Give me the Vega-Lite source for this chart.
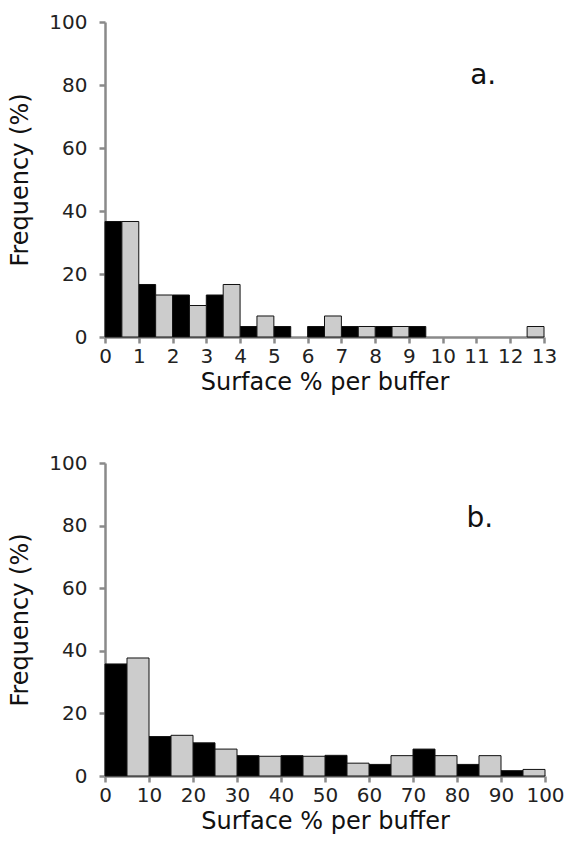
{
  "$schema": "https://vega.github.io/schema/vega-lite/v6.json",
  "background": "white",
  "padding": {"left": 8, "top": 12, "right": 5, "bottom": 5},
  "spacing": 59,
  "config": {
    "view": {"stroke": null},
    "axis": {
      "domainColor": "#8a8a8a", "domainWidth": 2.5, "tickColor": "#8a8a8a", "tickWidth": 2.5, "tickSize": 6,
      "labelFont": "DejaVu Sans", "labelFontSize": 20, "labelColor": "#222222",
      "titleFont": "DejaVu Sans", "titleFontSize": 24, "titleFontWeight": "normal", "titleColor": "#111111",
      "grid": false, "labelOverlap": false, "labelFlush": false
    },
    "axisX": {"labelPadding": 3, "titlePadding": 4},
    "axisY": {"labelPadding": 12, "titlePadding": 16}
  },
  "vconcat": [
    {
      "width": 439, "height": 315,
      "encoding": {
        "y": {"type": "quantitative", "scale": {"domain": [0, 100], "nice": false},
              "axis": {"values": [0,20,40,60,80,100], "title": "Frequency (%)"}}
      },
      "layer": [
        {
          "data": {"values": [
            {"lo": 0, "hi": 1, "group": "A", "value": 36.67},
            {"lo": 1, "hi": 2, "group": "A", "value": 16.67},
            {"lo": 2, "hi": 3, "group": "A", "value": 13.33},
            {"lo": 3, "hi": 4, "group": "A", "value": 13.33},
            {"lo": 4, "hi": 5, "group": "A", "value": 3.33},
            {"lo": 5, "hi": 6, "group": "A", "value": 3.33},
            {"lo": 6, "hi": 7, "group": "A", "value": 3.33},
            {"lo": 7, "hi": 8, "group": "A", "value": 3.33},
            {"lo": 8, "hi": 9, "group": "A", "value": 3.33},
            {"lo": 9, "hi": 10, "group": "A", "value": 3.33},
            {"lo": 0, "hi": 1, "group": "B", "value": 36.67},
            {"lo": 1, "hi": 2, "group": "B", "value": 13.33},
            {"lo": 2, "hi": 3, "group": "B", "value": 10.0},
            {"lo": 3, "hi": 4, "group": "B", "value": 16.67},
            {"lo": 4, "hi": 5, "group": "B", "value": 6.67},
            {"lo": 6, "hi": 7, "group": "B", "value": 6.67},
            {"lo": 7, "hi": 8, "group": "B", "value": 3.33},
            {"lo": 8, "hi": 9, "group": "B", "value": 3.33},
            {"lo": 12, "hi": 13, "group": "B", "value": 3.33}
          ]},
          "transform": [
            {"calculate": "datum.group === 'A' ? datum.lo : (datum.lo + datum.hi) / 2", "as": "x0"},
            {"calculate": "datum.group === 'A' ? (datum.lo + datum.hi) / 2 : datum.hi", "as": "x1"}
          ],
          "mark": {"type": "bar", "stroke": "#111111", "strokeWidth": 1},
          "encoding": {
            "x": {"field": "x0", "type": "quantitative", "scale": {"domain": [0, 13], "nice": false},
                  "axis": {"values": [0,1,2,3,4,5,6,7,8,9,10,11,12,13], "format": "d", "title": "Surface % per buffer"}},
            "x2": {"field": "x1"},
            "y": {"field": "value"},
            "y2": {"datum": 0},
            "color": {"field": "group", "type": "nominal", "scale": {"domain": ["A", "B"], "range": ["#000000", "#cccccc"]}, "legend": null}
          }
        },
        {
          "data": {"values": [{"x": 11.2, "y": 83, "label": "a."}]},
          "mark": {"type": "text", "font": "DejaVu Sans", "fontSize": 28, "color": "#111111"},
          "encoding": {
            "x": {"field": "x", "type": "quantitative",
                  "axis": {"values": [0,1,2,3,4,5,6,7,8,9,10,11,12,13], "format": "d", "title": "Surface % per buffer"}},
            "y": {"field": "y"},
            "text": {"field": "label"}
          }
        }
      ]
    },
    {
      "width": 440, "height": 313,
      "encoding": {
        "y": {"type": "quantitative", "scale": {"domain": [0, 100], "nice": false},
              "axis": {"values": [0,20,40,60,80,100], "title": "Frequency (%)"}}
      },
      "layer": [
        {
          "data": {"values": [
            {"lo": 0, "hi": 10, "group": "A", "value": 35.8},
            {"lo": 10, "hi": 20, "group": "A", "value": 12.6},
            {"lo": 20, "hi": 30, "group": "A", "value": 10.6},
            {"lo": 30, "hi": 40, "group": "A", "value": 6.5},
            {"lo": 40, "hi": 50, "group": "A", "value": 6.5},
            {"lo": 50, "hi": 60, "group": "A", "value": 6.6},
            {"lo": 60, "hi": 70, "group": "A", "value": 3.7},
            {"lo": 70, "hi": 80, "group": "A", "value": 8.6},
            {"lo": 80, "hi": 90, "group": "A", "value": 3.7},
            {"lo": 90, "hi": 100, "group": "A", "value": 1.7},
            {"lo": 0, "hi": 10, "group": "B", "value": 37.7},
            {"lo": 10, "hi": 20, "group": "B", "value": 13.0},
            {"lo": 20, "hi": 30, "group": "B", "value": 8.6},
            {"lo": 30, "hi": 40, "group": "B", "value": 6.3},
            {"lo": 40, "hi": 50, "group": "B", "value": 6.3},
            {"lo": 50, "hi": 60, "group": "B", "value": 4.1},
            {"lo": 60, "hi": 70, "group": "B", "value": 6.5},
            {"lo": 70, "hi": 80, "group": "B", "value": 6.5},
            {"lo": 80, "hi": 90, "group": "B", "value": 6.5},
            {"lo": 90, "hi": 100, "group": "B", "value": 2.1}
          ]},
          "transform": [
            {"calculate": "datum.group === 'A' ? datum.lo : (datum.lo + datum.hi) / 2", "as": "x0"},
            {"calculate": "datum.group === 'A' ? (datum.lo + datum.hi) / 2 : datum.hi", "as": "x1"}
          ],
          "mark": {"type": "bar", "stroke": "#111111", "strokeWidth": 1},
          "encoding": {
            "x": {"field": "x0", "type": "quantitative", "scale": {"domain": [0, 100], "nice": false},
                  "axis": {"values": [0,10,20,30,40,50,60,70,80,90,100], "format": "d", "title": "Surface % per buffer"}},
            "x2": {"field": "x1"},
            "y": {"field": "value"},
            "y2": {"datum": 0},
            "color": {"field": "group", "type": "nominal", "scale": {"domain": ["A", "B"], "range": ["#000000", "#cccccc"]}, "legend": null}
          }
        },
        {
          "data": {"values": [{"x": 85.2, "y": 82, "label": "b."}]},
          "mark": {"type": "text", "font": "DejaVu Sans", "fontSize": 28, "color": "#111111"},
          "encoding": {
            "x": {"field": "x", "type": "quantitative",
                  "axis": {"values": [0,10,20,30,40,50,60,70,80,90,100], "format": "d", "title": "Surface % per buffer"}},
            "y": {"field": "y"},
            "text": {"field": "label"}
          }
        }
      ]
    }
  ]
}
